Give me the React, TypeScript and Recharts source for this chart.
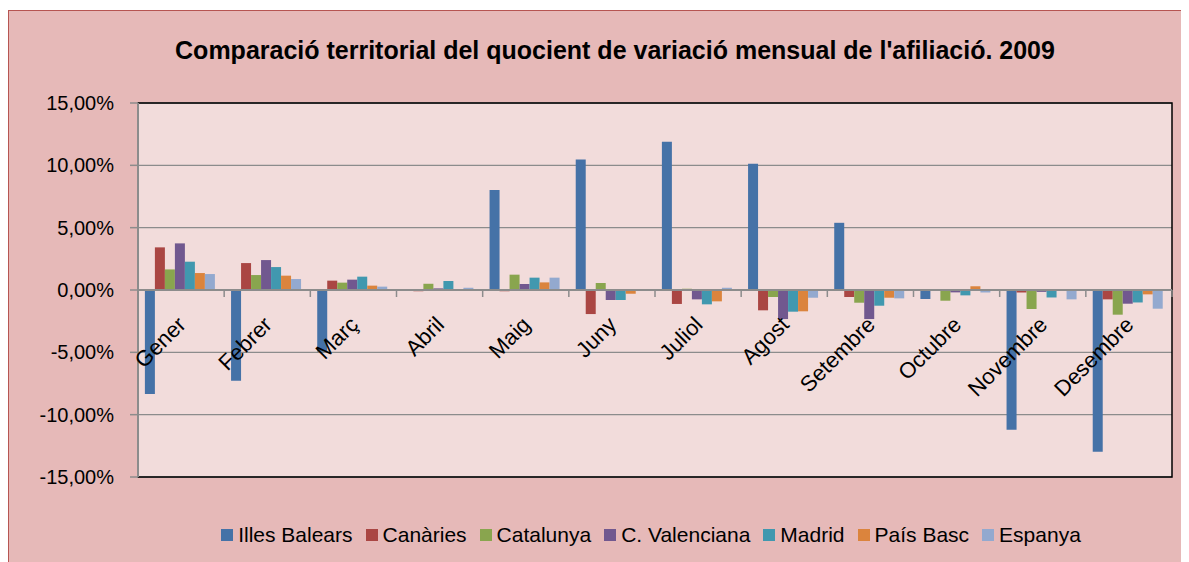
import React from 'react'
import { BarChart, Bar, XAxis, YAxis, CartesianGrid, ReferenceLine, ReferenceArea } from 'recharts'

const mesos = ['Gener', 'Febrer', 'Març', 'Abril', 'Maig', 'Juny', 'Juliol', 'Agost', 'Setembre', 'Octubre', 'Novembre', 'Desembre']

const illesBalears = [-8.34, -7.27, -4.95, 0, 8.02, 10.47, 11.89, 10.13, 5.39, -0.72, -11.2, -12.97]
const canaries = [3.42, 2.16, 0.75, -0.1, -0.1, -1.93, -1.12, -1.63, -0.56, -0.03, -0.2, -0.75]
const catalunya = [1.65, 1.2, 0.59, 0.5, 1.23, 0.56, 0.1, -0.56, -1.02, -0.86, -1.52, -1.98]
const valenciana = [3.74, 2.4, 0.83, 0.13, 0.48, -0.8, -0.75, -2.33, -2.33, -0.19, -0.15, -1.1]
const madrid = [2.27, 1.84, 1.07, 0.72, 0.99, -0.8, -1.15, -1.74, -1.26, -0.43, -0.6, -1.0]
const paisBasc = [1.36, 1.15, 0.35, 0.02, 0.61, -0.3, -0.91, -1.71, -0.62, 0.3, -0.05, -0.35]
const espanya = [1.28, 0.88, 0.27, 0.18, 0.99, -0.03, 0.18, -0.62, -0.67, -0.2, -0.75, -1.5]

const yTicks = [-15, -10, -5, 0, 5, 10, 15]

const series = [
  { key: 'balears', name: 'Illes Balears', color: '#4572A7', values: illesBalears },
  { key: 'canaries', name: 'Canàries', color: '#AA4643', values: canaries },
  { key: 'catalunya', name: 'Catalunya', color: '#89A54E', values: catalunya },
  { key: 'valenciana', name: 'C. Valenciana', color: '#71588F', values: valenciana },
  { key: 'madrid', name: 'Madrid', color: '#4198AF', values: madrid },
  { key: 'paisBasc', name: 'País Basc', color: '#DB843D', values: paisBasc },
  { key: 'espanya', name: 'Espanya', color: '#93A9CF', values: espanya },
]

const data = mesos.map((mes, i) => {
  const row: Record<string, string | number> = { mes }
  series.forEach((s) => (row[s.key] = s.values[i]))
  return row
})

const W = 1181
const H = 552
const xAxisHeight = 30
const margin = { top: 93, right: 17, bottom: 85 - xAxisHeight, left: 0 }
const yAxisWidth = 130
const plotW = W - margin.right - yAxisWidth
const plotH = H - margin.top - margin.bottom - xAxisHeight
const band = plotW / mesos.length
const font = '"Liberation Sans", Arial, sans-serif'

const fmt = (v: number) => v.toFixed(2).replace('.', ',') + '%'

function MonthTick(props: any) {
  const { x, y, payload, index } = props
  // axis sits at the bottom of the plot; labels belong on the zero line (domain is symmetric)
  const y0 = y - plotH / 2
  const tx = x + 6
  const ty = y0 + 36
  return (
    <g>
      <line x1={x - band / 2} x2={x - band / 2} y1={y0} y2={y0 + 7} stroke="#8c8c8c" strokeWidth={1.5} />
      {index === mesos.length - 1 && (
        <line x1={x + band / 2} x2={x + band / 2} y1={y0} y2={y0 + 7} stroke="#8c8c8c" strokeWidth={1.5} />
      )}
      <text
        x={tx}
        y={ty}
        textAnchor="end"
        fontSize={22}
        fontFamily={font}
        fill="#000"
        transform={`rotate(-45, ${tx}, ${ty})`}
      >
        {payload.value}
      </text>
    </g>
  )
}

export default function App() {
  return (
    <div
      style={{
        position: 'relative',
        marginTop: 2,
        width: W,
        height: H,
        background: '#E6B9B8',
        borderTop: '1px solid #B65552',
        borderLeft: '1px solid #B65552',
        boxSizing: 'border-box',
        fontFamily: font,
      }}
    >
      <div
        style={{
          position: 'absolute',
          left: 0,
          top: 25,
          width: 1212,
          textAlign: 'center',
          fontSize: 25,
          fontWeight: 'bold',
          color: '#000',
        }}
      >
        Comparació territorial del quocient de variació mensual de l'afiliació. 2009
      </div>
      <div style={{ position: 'absolute', left: -1, top: -1 }}>
        <BarChart width={W} height={H} data={data} margin={margin} barGap={0} barCategoryGap="8%">
          <CartesianGrid vertical={false} horizontal stroke="#8c8c8c" strokeWidth={1.3} fill="#F2DCDB" fillOpacity={1} />
          <XAxis
            dataKey="mes"
            height={xAxisHeight}
            axisLine={false}
            tickLine={false}
            tickSize={0}
            tickMargin={0}
            interval={0}
            tick={<MonthTick />}
          />
          <YAxis
            width={yAxisWidth}
            domain={[-15, 15]}
            ticks={yTicks}
            tickFormatter={fmt}
            tickSize={8}
            tickMargin={16}
            stroke="#8c8c8c"
            tick={{ fill: '#000', fontSize: 20, fontFamily: font }}
            axisLine={{ stroke: '#8c8c8c', strokeWidth: 2 }}
            tickLine={{ stroke: '#8c8c8c', strokeWidth: 1.5 }}
          />
          {series.map((s) => (
            <Bar key={s.key} dataKey={s.key} name={s.name} fill={s.color} isAnimationActive={false} />
          ))}
          <ReferenceLine y={0} stroke="#8c8c8c" strokeWidth={2} />
          <ReferenceArea y1={-15} y2={15} fill="none" stroke="#000" strokeWidth={1.5} />
        </BarChart>
      </div>
      <div
        style={{
          position: 'absolute',
          left: 0,
          top: 512,
          width: 1181,
          display: 'flex',
          justifyContent: 'center',
          gap: 13,
          fontSize: 21,
          color: '#000',
          paddingLeft: 103,
          boxSizing: 'border-box',
        }}
      >
        {series.map((s) => (
          <span key={s.key} style={{ display: 'flex', alignItems: 'center', gap: 5 }}>
            <span style={{ display: 'inline-block', width: 12, height: 12, background: s.color }} />
            {s.name}
          </span>
        ))}
      </div>
    </div>
  )
}
